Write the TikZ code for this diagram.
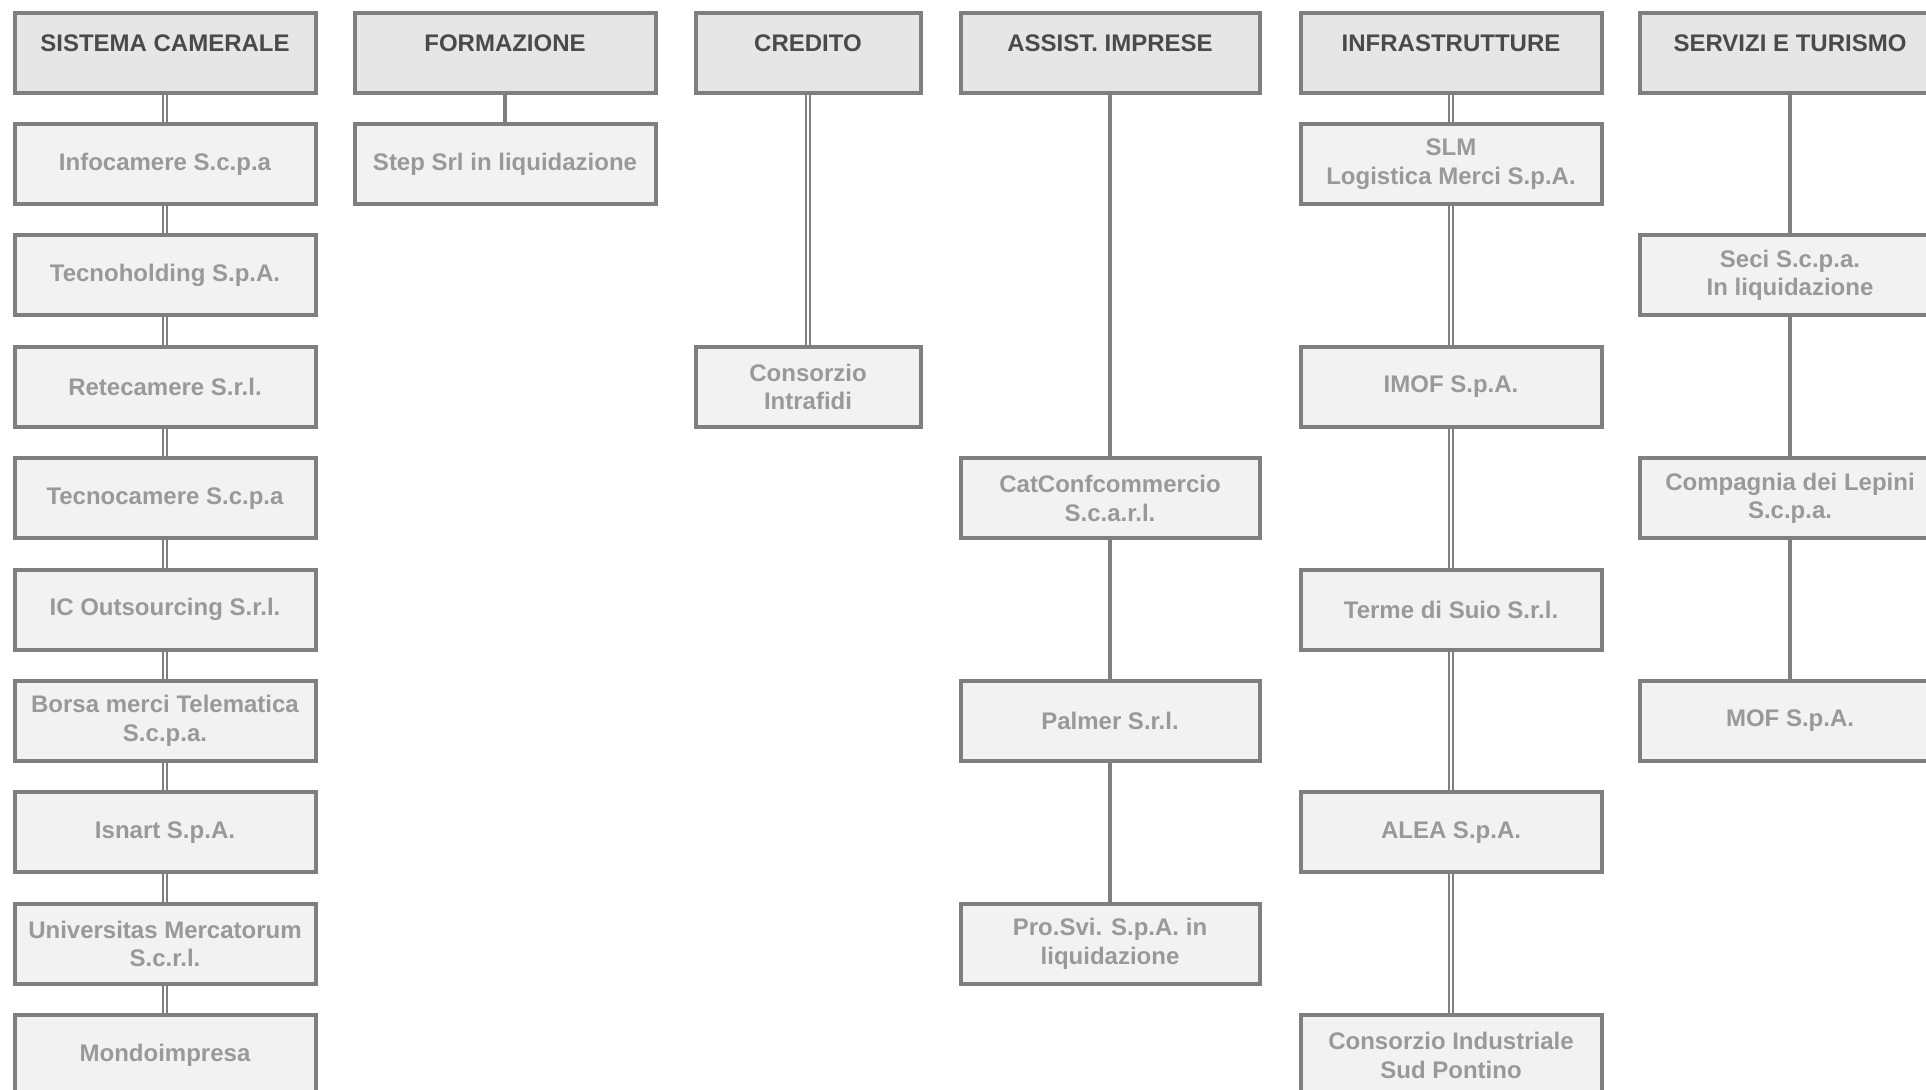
\documentclass[tikz,border=0pt]{standalone}
\usepackage{fontspec}
\setmainfont{Liberation Sans}
\definecolor{bordc}{HTML}{7F7F7F}
\definecolor{hdrfill}{HTML}{E6E6E6}
\definecolor{entfill}{HTML}{F2F2F2}
\definecolor{hdrtext}{HTML}{4A4A4A}
\definecolor{enttext}{HTML}{999999}
\begin{document}
\begin{tikzpicture}[x=1pt,y=-1pt,
  boxbase/.style={draw=bordc, line width=4pt, minimum height=80pt, anchor=north west, inner sep=0pt},
  hdr/.style={boxbase, fill=hdrfill},
  hdrtxt/.style={text=hdrtext, font=\bfseries\fontsize{24}{28.5}\selectfont, inner sep=0pt},
  ent/.style={boxbase, fill=entfill, text=enttext, font=\bfseries\fontsize{24}{28.5}\selectfont, align=center},
  wA/.style={minimum width=301pt},
  wC/.style={minimum width=225pt},
  wD/.style={minimum width=299pt},
  single/.style={draw=bordc, line width=4pt},
  dbl/.style={draw=bordc, line width=1.8pt, double=white, double distance=1.6pt}
]
\clip (0,0) rectangle (1926,1089);
\fill[white] (0,0) rectangle (1926,1089);
\begin{scope}[shift={(-1.5,-1)}]
% Headers
\node[hdr,wA] (h1) at (14,12) {};
\node[hdr,wA] (h2) at (354,12) {};
\node[hdr,wC] (h3) at (695,12) {};
\node[hdr,wD] (h4) at (960,12) {};
\node[hdr,wA] (h5) at (1300,12) {};
\node[hdr,wA] (h6) at (1639,12) {};
\node[hdrtxt] (t1) at ([yshift=-32pt]h1.north) {SISTEMA CAMERALE};
\node[hdrtxt] (t2) at ([yshift=-32pt]h2.north) {FORMAZIONE};
\node[hdrtxt] (t3) at ([yshift=-32pt]h3.north) {CREDITO};
\node[hdrtxt] (t4) at ([yshift=-32pt]h4.north) {ASSIST. IMPRESE};
\node[hdrtxt] (t5) at ([yshift=-32pt]h5.north) {INFRASTRUTTURE};
\node[hdrtxt] (t6) at ([yshift=-32pt]h6.north) {SERVIZI E TURISMO};

% Column 1
\node[ent,wA] (a1) at (14,123) {Infocamere S.c.p.a};
\node[ent,wA] (a2) at (14,234.4) {Tecnoholding S.p.A.};
\node[ent,wA] (a3) at (14,345.8) {Retecamere S.r.l.};
\node[ent,wA] (a4) at (14,457.2) {Tecnocamere S.c.p.a};
\node[ent,wA] (a5) at (14,568.6) {IC Outsourcing S.r.l.};
\node[ent,wA] (a6) at (14,680) {Borsa merci Telematica\\S.c.p.a.};
\node[ent,wA] (a7) at (14,791.4) {Isnart S.p.A.};
\node[ent,wA] (a8) at (14,902.8) {Universitas Mercatorum\\S.c.r.l.};
\node[ent,wA] (a9) at (14,1014.2) {Mondoimpresa};

% Column 2
\node[ent,wA] (b1) at (354,123) {Step Srl in liquidazione};

% Column 3
\node[ent,wC] (c3) at (695,345.8) {Consorzio\\Intrafidi};

% Column 4
\node[ent,wD] (d4) at (960,457.2) {CatConfcommercio\\S.c.a.r.l.};
\node[ent,wD] (d6) at (960,680) {Palmer S.r.l.};
\node[ent,wD] (d8) at (960,902.8) {Pro.Svi. S.p.A. in\\liquidazione};

% Column 5
\node[ent,wA] (e1) at (1300,123) {SLM\\Logistica Merci S.p.A.};
\node[ent,wA] (e3) at (1300,345.8) {IMOF S.p.A.};
\node[ent,wA] (e5) at (1300,568.6) {Terme di Suio S.r.l.};
\node[ent,wA] (e7) at (1300,791.4) {ALEA S.p.A.};
\node[ent,wA] (e9) at (1300,1014.2) {Consorzio Industriale\\Sud Pontino};

% Column 6
\node[ent,wA] (f2) at (1639,234.4) {Seci S.c.p.a.\\In liquidazione};
\node[ent,wA] (f4) at (1639,457.2) {Compagnia dei Lepini\\S.c.p.a.};
\node[ent,wA] (f6) at (1639,680) {MOF S.p.A.};

% Connectors
\draw[dbl] (h1.south) -- (a1.north);
\draw[dbl] (a1.south) -- (a2.north);
\draw[dbl] (a2.south) -- (a3.north);
\draw[dbl] (a3.south) -- (a4.north);
\draw[dbl] (a4.south) -- (a5.north);
\draw[dbl] (a5.south) -- (a6.north);
\draw[dbl] (a6.south) -- (a7.north);
\draw[dbl] (a7.south) -- (a8.north);
\draw[dbl] (a8.south) -- (a9.north);

\draw[single] (h2.south) -- (b1.north);

\draw[dbl] (h3.south) -- (c3.north);

\draw[single] (h4.south) -- (d4.north);
\draw[single] (d4.south) -- (d6.north);
\draw[single] (d6.south) -- (d8.north);

\draw[dbl] (h5.south) -- (e1.north);
\draw[dbl] (e1.south) -- (e3.north);
\draw[dbl] (e3.south) -- (e5.north);
\draw[dbl] (e5.south) -- (e7.north);
\draw[dbl] (e7.south) -- (e9.north);

\draw[single] (h6.south) -- (f2.north);
\draw[single] (f2.south) -- (f4.north);
\draw[single] (f4.south) -- (f6.north);
\end{scope}
\end{tikzpicture}
\end{document}
